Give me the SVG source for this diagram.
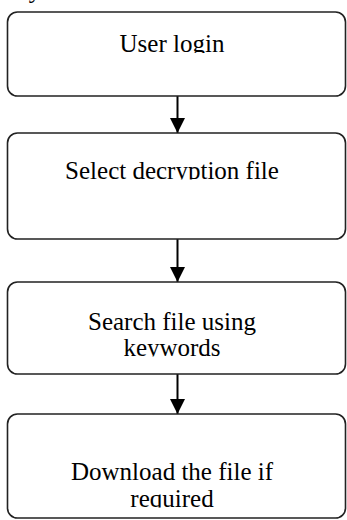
<svg xmlns="http://www.w3.org/2000/svg" width="347" height="520" viewBox="0 0 347 520">
  <style>
    .box { fill: #ffffff; stroke: #222222; stroke-width: 1.6; }
    .lbl { font-family: "Liberation Serif", "Times New Roman", serif; font-size: 25px; fill: #000000; text-anchor: middle; }
    .edge { stroke: #000000; stroke-width: 2; fill: none; marker-end: url(#arrow); }
  </style>
  <defs>
    <marker id="arrow" markerUnits="userSpaceOnUse" markerWidth="16" markerHeight="15" refX="15" refY="7.5" orient="auto" viewBox="0 0 16 15">
      <path d="M0,0 L15,7.5 L0,15 z" fill="#000000"/>
    </marker>
    <clipPath id="c1"><rect x="0" y="0" width="347" height="53"/></clipPath>
    <clipPath id="c2"><rect x="0" y="130" width="347" height="49.5"/></clipPath>
    <clipPath id="c3"><rect x="0" y="280" width="347" height="76.5"/></clipPath>
    <clipPath id="c4"><rect x="0" y="412" width="347" height="95.5"/></clipPath>
    <clipPath id="c0"><rect x="0" y="0" width="347" height="20"/></clipPath>
  </defs>
  <rect width="347" height="520" fill="#ffffff"/>
  <text class="lbl" x="35" y="-2" clip-path="url(#c0)">y</text>

  <g id="connectors">
    <line class="edge" x1="177.5" y1="96" x2="177.5" y2="133"/>
    <line class="edge" x1="177.5" y1="239" x2="177.5" y2="282"/>
    <line class="edge" x1="177.5" y1="374" x2="177.5" y2="414"/>
  </g>

  <g id="node-user-login">
    <rect class="box" x="7.5" y="12" width="338" height="84" rx="10"/>
    <text class="lbl" x="172" y="52" clip-path="url(#c1)">User login</text>
  </g>
  <g id="node-select-decryption">
    <rect class="box" x="7.5" y="133" width="338" height="106" rx="10"/>
    <text class="lbl" x="172" y="178.5" clip-path="url(#c2)">Select decryption file</text>
  </g>
  <g id="node-search-file">
    <rect class="box" x="7.5" y="282" width="338" height="92" rx="10"/>
    <g clip-path="url(#c3)">
      <text class="lbl" x="172" y="330">Search file using</text>
      <text class="lbl" x="172" y="356">keywords</text>
    </g>
  </g>
  <g id="node-download">
    <rect class="box" x="7.5" y="414" width="338" height="104" rx="10"/>
    <g clip-path="url(#c4)">
      <text class="lbl" x="172" y="480">Download the file if</text>
      <text class="lbl" x="172" y="507">required</text>
    </g>
  </g>
</svg>
